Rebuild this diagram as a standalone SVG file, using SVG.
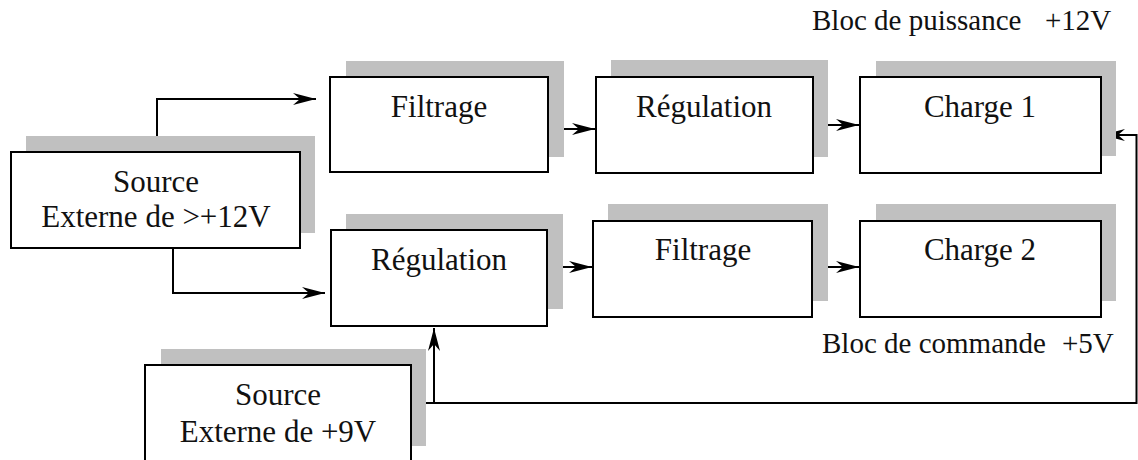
<svg xmlns="http://www.w3.org/2000/svg" width="1138" height="460" viewBox="0 0 1138 460">
<style>
.sh{fill:#c0c0c0}
.bx{fill:#fff;stroke:#000;stroke-width:2}
.t{font-family:'Liberation Serif','Times New Roman',Times,serif;font-size:31px;fill:#111;text-anchor:middle}
.lb{font-family:'Liberation Serif','Times New Roman',Times,serif;font-size:29px;fill:#111}
.c{fill:none;stroke:#000;stroke-width:2}
</style>
<defs>
<marker id="ah" markerUnits="userSpaceOnUse" markerWidth="26" markerHeight="16" refX="24" refY="8" orient="auto">
<path d="M1,2 L24,8 L1,14 L8,8 z" fill="#000"/>
</marker>
</defs>
<rect width="1138" height="460" fill="#fff"/>
<g id="connectors">
<path class="c" d="M157,152 V99 H316" marker-end="url(#ah)"/>
<path class="c" d="M173,248 V293 H325" marker-end="url(#ah)"/>
<path class="c" d="M548,129 H595" marker-end="url(#ah)"/>
<path class="c" d="M813,125 H859" marker-end="url(#ah)"/>
<path class="c" d="M547,267 H592" marker-end="url(#ah)"/>
<path class="c" d="M812,267 H859" marker-end="url(#ah)"/>
<path class="c" d="M411,403 H434 V328" marker-end="url(#ah)"/>
<path class="c" d="M434,403 H1136.5 V135 H1102" marker-end="url(#ah)"/>
</g>
<g id="source1">
<rect class="sh" x="26" y="136" width="289" height="97"/>
<rect class="bx" x="11" y="152" width="289" height="96"/>
<text class="t" x="156" y="192" font-family="Liberation Serif">Source</text>
<text class="t" x="156" y="227" font-family="Liberation Serif">Externe de &gt;+12V</text>
</g>
<g id="filtrage1">
<rect class="sh" x="346" y="61" width="218" height="96"/>
<rect class="bx" x="330" y="77" width="218" height="95"/>
<text class="t" x="439" y="117" font-family="Liberation Serif">Filtrage</text>
</g>
<g id="regulation1">
<rect class="sh" x="611" y="60" width="217" height="97"/>
<rect class="bx" x="596" y="77" width="217" height="96"/>
<text class="t" x="704" y="117" font-family="Liberation Serif">Régulation</text>
</g>
<g id="charge1">
<rect class="sh" x="876" y="61" width="240" height="95"/>
<rect class="bx" x="860" y="77" width="241" height="96"/>
<text class="t" x="980" y="117" font-family="Liberation Serif">Charge 1</text>
</g>
<g id="regulation2">
<rect class="sh" x="346" y="214" width="217" height="95"/>
<rect class="bx" x="331" y="230" width="216" height="96"/>
<text class="t" x="439" y="270" font-family="Liberation Serif">Régulation</text>
</g>
<g id="filtrage2">
<rect class="sh" x="608" y="204" width="220" height="97"/>
<rect class="bx" x="593" y="221" width="219" height="96"/>
<text class="t" x="703" y="260" font-family="Liberation Serif">Filtrage</text>
</g>
<g id="charge2">
<rect class="sh" x="876" y="204" width="240" height="97"/>
<rect class="bx" x="860" y="221" width="241" height="96"/>
<text class="t" x="980" y="260" font-family="Liberation Serif">Charge 2</text>
</g>
<g id="source2">
<rect class="sh" x="161" y="349" width="265" height="97"/>
<rect class="bx" x="145" y="365" width="266" height="100"/>
<text class="t" x="278" y="405" font-family="Liberation Serif">Source</text>
<text class="t" x="278" y="442" font-family="Liberation Serif">Externe de +9V</text>
</g>
<g id="labels">
<text class="lb" x="812" y="30" font-family="Liberation Serif">Bloc de puissance<tspan x="1045">+12V</tspan></text>
<text class="lb" x="822" y="353" font-family="Liberation Serif">Bloc de commande<tspan x="1062">+5V</tspan></text>
</g>
</svg>
